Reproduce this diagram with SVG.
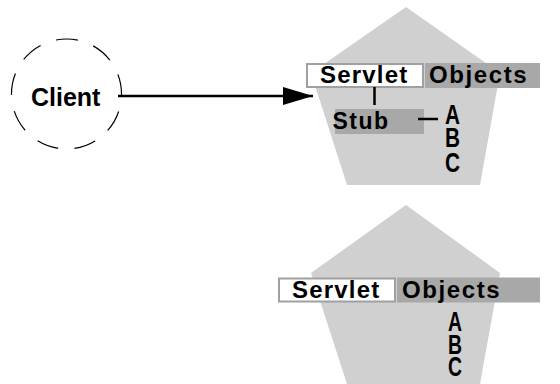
<svg xmlns="http://www.w3.org/2000/svg" width="560" height="384" viewBox="0 0 560 384">
<style>
.pent{fill:#d0d0d0;stroke:none}
.wbox{fill:#ffffff;stroke:#a0a0a0;stroke-width:2}
.gbox{fill:#a8a8a8;stroke:none}
.lbl{font-family:"Liberation Sans",Arial,sans-serif;font-weight:bold;font-size:24px;letter-spacing:1.2px;fill:#000}
.abc{font-family:"Liberation Sans",Arial,sans-serif;font-weight:bold;font-size:27px;fill:#000}
.ln{stroke:#000;stroke-width:2.5;fill:none}
</style>
<defs>
<marker id="ah" markerUnits="userSpaceOnUse" markerWidth="32" markerHeight="18" refX="30" refY="9" orient="auto">
<polygon points="0,0 30,9 0,18" fill="#000"/>
</marker>
</defs>
<g id="client">
<circle cx="66.5" cy="94" r="55" fill="none" stroke="#000" stroke-width="1.2" stroke-dasharray="22 16.4" stroke-dashoffset="20.6"/>
<text x="31" y="106" font-family="Liberation Sans,Arial,sans-serif" font-weight="bold" font-size="25">Client</text>
</g>
<g id="server1">
<polygon class="pent" points="406,7 500,73 480,185 347,185 311,73"/>
<rect class="wbox" x="307" y="64" width="116" height="23"/>
<rect class="gbox" x="425" y="63" width="115" height="25"/>
<text class="lbl" x="320" y="83">Servlet</text>
<text class="lbl" x="429" y="83" style="letter-spacing:1.6px">Objects</text>
<rect class="gbox" x="335" y="109" width="89" height="25"/>
<text class="lbl" x="332.5" y="128.5" style="font-size:23px;letter-spacing:1.5px">Stub</text>
<line class="ln" x1="374.5" y1="87" x2="374.5" y2="105"/>
<line class="ln" x1="418" y1="119" x2="438" y2="119"/>
<text class="abc"><tspan x="445" y="124" textLength="15" lengthAdjust="spacingAndGlyphs">A</tspan><tspan x="445" y="147" textLength="15" lengthAdjust="spacingAndGlyphs">B</tspan><tspan x="445" y="171.5" textLength="15" lengthAdjust="spacingAndGlyphs">C</tspan></text>
</g>
<g id="server2">
<polygon class="pent" points="406,205 500,273 480,384 347,384 311,273"/>
<rect class="wbox" x="279" y="278.5" width="116" height="23"/>
<rect class="gbox" x="397" y="277.5" width="143" height="25"/>
<text class="lbl" x="292" y="297.5">Servlet</text>
<text class="lbl" x="402" y="297.5" style="letter-spacing:1.6px">Objects</text>
<text class="abc"><tspan x="448" y="331" textLength="14" lengthAdjust="spacingAndGlyphs">A</tspan><tspan x="448" y="353.5" textLength="14" lengthAdjust="spacingAndGlyphs">B</tspan><tspan x="448" y="376" textLength="14" lengthAdjust="spacingAndGlyphs">C</tspan></text>
</g>
<g id="connectors">
<line x1="118" y1="96" x2="313" y2="96" stroke="#000" stroke-width="2.5" marker-end="url(#ah)"/>
</g>
</svg>
